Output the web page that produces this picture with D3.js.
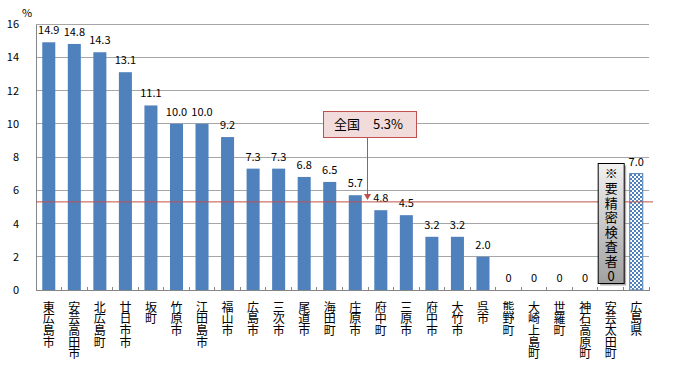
<!DOCTYPE html>
<html><head><meta charset="utf-8">
<script src="https://cdn.jsdelivr.net/npm/d3@7"></script>
<style>body{margin:0;background:#fff}svg{display:block}text{font-family:"Noto Sans CJK JP","Noto Sans",sans-serif}.vt{writing-mode:vertical-rl;text-orientation:upright}</style>
</head><body><svg id="c" width="681" height="371"></svg>
<script>
const categories = ["東広島市","安芸高田市","北広島町","廿日市市","坂町","竹原市","江田島市","福山市","広島市","三次市","尾道市","海田町","庄原市","府中町","三原市","府中市","大竹市","呉市","熊野町","大崎上島町","世羅町","神石高原町","安芸太田町","広島県"];
const values = [14.9,14.8,14.3,13.1,11.1,10.0,10.0,9.2,7.3,7.3,6.8,6.5,5.7,4.8,4.5,3.2,3.2,2.0,0,0,0,0,null,7.0];
const yTicks = [0,2,4,6,8,10,12,14,16];
const nationalAvg = 5.3;
const nationalLabel = ["全国", "5.3%"];
const noteCategory = "安芸太田町";
const noteText = "※要精密検査者0";
const prefCategory = "広島県";

const svg = d3.select("#c");
const L = 36, R = 649, T = 24, B = 290;
const x = d3.scaleBand().domain(categories).range([L, R]).paddingInner(0.49).paddingOuter(0.245);
const y = d3.scaleLinear().domain([0, 16]).range([B, T]);

const defs = svg.append("defs");
const pat = defs.append("pattern").attr("id","chk").attr("width",4).attr("height",4).attr("patternUnits","userSpaceOnUse");
pat.append("rect").attr("width",4).attr("height",4).attr("fill","#fff");
pat.append("rect").attr("width",2).attr("height",2).attr("fill","#4f81bd");
pat.append("rect").attr("x",2).attr("y",2).attr("width",2).attr("height",2).attr("fill","#4f81bd");
const grad = defs.append("linearGradient").attr("id","gg").attr("x1",0).attr("y1",0).attr("x2",0).attr("y2",1);
grad.append("stop").attr("offset","0").attr("stop-color","#f2f2f2");
grad.append("stop").attr("offset","1").attr("stop-color","#a0a0a0");

// gridlines
svg.append("g").selectAll("line").data(yTicks.filter(d=>d>0)).join("line")
  .attr("x1",L).attr("x2",R).attr("y1",d=>y(d)).attr("y2",d=>y(d))
  .attr("stroke","#a6a6a6").attr("stroke-width",1).attr("shape-rendering","crispEdges");

// y axis
const ya = svg.append("g").attr("transform",`translate(${L},0)`).call(d3.axisLeft(y).tickValues(yTicks).tickSize(0).tickPadding(17));
ya.select(".domain").attr("stroke","#868686").attr("shape-rendering","crispEdges");
ya.selectAll("text").attr("font-size",11).attr("fill","#000").attr("font-family",'"Noto Sans CJK JP",sans-serif');
svg.append("text").attr("x",27).attr("y",17).attr("text-anchor","middle").attr("font-size",11).text("%");

// bars
const barData = categories.map((c,i)=>({c, v: values[i]})).filter(d=>d.v!==null);
svg.append("g").selectAll("rect").data(barData).join("rect")
  .attr("x",d=>x(d.c)).attr("width",x.bandwidth())
  .attr("y",d=>y(d.v)).attr("height",d=>y(0)-y(d.v))
  .attr("fill",d=>d.c===prefCategory?"url(#chk)":"#4f81bd")
  .attr("stroke",d=>d.c===prefCategory?"#4f81bd":"none");

// x axis
svg.append("line").attr("x1",L).attr("x2",R+1).attr("y1",B).attr("y2",B).attr("stroke","#868686").attr("shape-rendering","crispEdges");
const step = x.step();
svg.append("g").selectAll("line").data(d3.range(1, categories.length+1)).join("line")
  .attr("x1",i=>L+i*step).attr("x2",i=>L+i*step).attr("y1",B-3).attr("y2",B)
  .attr("stroke","#868686").attr("shape-rendering","crispEdges");

// value labels
svg.append("g").selectAll("text").data(barData).join("text")
  .attr("x",d=>x(d.c)+x.bandwidth()/2).attr("y",d=>y(d.v)-8)
  .attr("text-anchor","middle").attr("font-size",11)
  .text(d=>d.v===0?"0":d.v.toFixed(1));

// x labels vertical
svg.append("g").selectAll("text").data(categories).join("text")
  .attr("class","vt")
  .attr("x",d=>x(d)+x.bandwidth()/2).attr("y",301).attr("font-size",12)
  .attr("letter-spacing",-0.3)
  .text(d=>d);

// national average line
svg.append("line").attr("x1",L).attr("x2",653).attr("y1",y(nationalAvg)).attr("y2",y(nationalAvg))
  .attr("stroke","#c0504d").attr("stroke-width",1);

// annotation box
svg.append("rect").attr("x",323.5).attr("y",111.5).attr("width",93).attr("height",26)
  .attr("fill","#f2dcdb").attr("stroke","#c0504d").attr("stroke-width",1);
svg.append("text").attr("x",334).attr("y",129).attr("font-size",13).text(nationalLabel[0]);
svg.append("text").attr("x",373).attr("y",129).attr("font-size",13).attr("fill","#000").text(nationalLabel[1]);
const ax = 367.5;
svg.append("line").attr("x1",ax).attr("x2",ax).attr("y1",138).attr("y2",196).attr("stroke","#c0504d").attr("stroke-width",1);
svg.append("path").attr("d",`M${ax-3.5},${194}L${ax+3.5},${194}L${ax},${200}Z`).attr("fill","#c0504d");

// note box
const nx = x(noteCategory)+x.bandwidth()/2;
const bw = 26, bh = 120, by = 163;
svg.append("rect").attr("x",nx-bw/2+2.5).attr("y",by+2.5).attr("width",bw).attr("height",bh).attr("fill","#7f7f7f").attr("opacity",0.6);
svg.append("rect").attr("x",nx-bw/2+0.5).attr("y",by+0.5).attr("width",bw).attr("height",bh)
  .attr("fill","url(#gg)").attr("stroke","#000").attr("stroke-width",1);
svg.append("text").attr("class","vt").attr("x",nx+0.5).attr("y",by+4).attr("font-size",13)
  .attr("letter-spacing",1.6).text(noteText);
</script></body></html>
